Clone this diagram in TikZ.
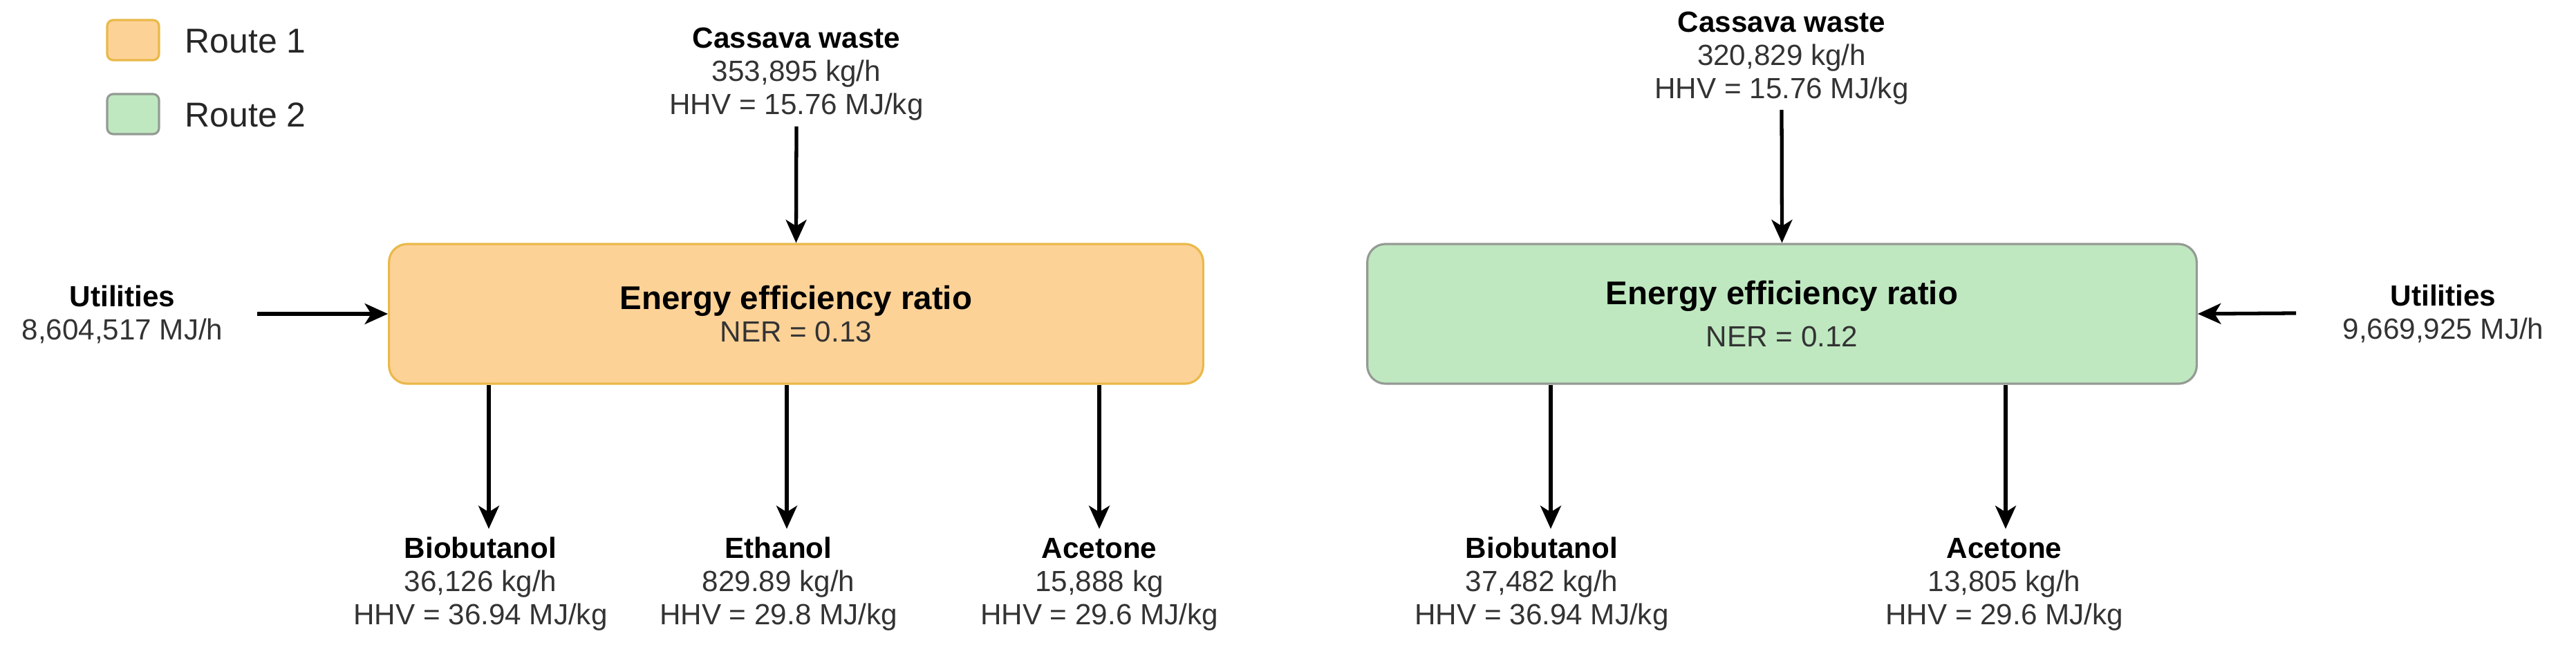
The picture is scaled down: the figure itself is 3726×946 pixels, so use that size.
\documentclass[tikz,border=0pt]{standalone}
\usepackage{fontspec}
\setmainfont{Liberation Sans}
\usetikzlibrary{arrows.meta}
\definecolor{orfill}{HTML}{FDD297}
\definecolor{ordraw}{HTML}{E9B949}
\definecolor{grfill}{HTML}{BFE8C0}
\definecolor{grdraw}{HTML}{949A94}
\definecolor{txtgray}{HTML}{333333}
\begin{document}
\begin{tikzpicture}[x=0.01cm,y=-0.01cm,
  lbl/.style={align=center, inner sep=0pt, font=\fontsize{12pt}{13.66pt}\selectfont, text=txtgray},
  flow/.style={line width=1.5pt, -{Stealth[length=9.5pt,width=8.5pt,inset=2.6pt]}},
  ratiobox/.style={rounded corners=7.5pt, line width=0.9pt, minimum width=11.77cm, minimum height=2.02cm, align=center, inner sep=0pt, font=\fontsize{12pt}{13.4pt}\selectfont, text=txtgray},
  legbox/.style={rounded corners=2.5pt, line width=0.9pt, minimum width=0.75cm, minimum height=0.58cm, inner sep=0pt},
  legtext/.style={anchor=west, inner sep=0pt, font=\fontsize{14.2pt}{17pt}\selectfont, text=black!85}
]
\useasboundingbox (0,0) rectangle (3726,946);

% legend
\node[legbox, fill=orfill, draw=ordraw] (leg1) at (192.5,58) {};
\node[legtext] (leg1t) at (267,60) {Route 1};
\node[legbox, fill=grfill, draw=grdraw] (leg2) at (192.5,165) {};
\node[legtext] (leg2t) at (267,166) {Route 2};

% route 1
\node[ratiobox, fill=orfill, draw=ordraw] (r1) at (1151.5,454)
  {{\color{black}\fontsize{13.5pt}{13.4pt}\selectfont\bfseries Energy efficiency ratio}\\NER = 0.13};
\node[lbl] (cw1) at (1152,107) {{\bfseries\color{black}Cassava waste}\\353,895 kg/h\\HHV = 15.76 MJ/kg};
\draw[flow, shorten <=0.08cm] (cw1.south) -- (r1.north);
\node[lbl] (u1) at (177,455) {{\bfseries\color{black}Utilities}\\8,604,517 MJ/h};
\coordinate (u1s) at (372,454);
\draw[flow] (u1s) -- (r1.west);

\node[lbl] (p11) at (695,845) {{\bfseries\color{black}Biobutanol}\\36,126 kg/h\\HHV = 36.94 MJ/kg};
\node[lbl] (p12) at (1126,845) {{\bfseries\color{black}Ethanol}\\829.89 kg/h\\HHV = 29.8 MJ/kg};
\node[lbl] (p13) at (1590,845) {{\bfseries\color{black}Acetone}\\15,888 kg\\HHV = 29.6 MJ/kg};
\coordinate (p11a) at (707,765);
\coordinate (p12a) at (1138,765);
\coordinate (p13a) at (1590,765);
\draw[flow] (r1.south -| p11a) -- (p11a);
\draw[flow] (r1.south -| p12a) -- (p12a);
\draw[flow] (r1.south -| p13a) -- (p13a);

% route 2
\node[ratiobox, minimum width=11.99cm, fill=grfill, draw=grdraw] (r2) at (2577.5,454)
  {{\color{black}\fontsize{13.5pt}{13.4pt}\selectfont\bfseries Energy efficiency ratio}\\[4.2pt]NER = 0.12};
\node[lbl] (cw2) at (2577,84) {{\bfseries\color{black}Cassava waste}\\320,829 kg/h\\HHV = 15.76 MJ/kg};
\draw[flow, shorten <=0.07cm] (cw2.south) -- (r2.north);
\node[lbl] (u2) at (3534,454) {{\bfseries\color{black}Utilities}\\9,669,925 MJ/h};
\coordinate (u2s) at (3321,453);
\draw[flow] (u2s) -- (r2.east);

\node[lbl] (p21) at (2230,845) {{\bfseries\color{black}Biobutanol}\\37,482 kg/h\\HHV = 36.94 MJ/kg};
\node[lbl] (p22) at (2899,845) {{\bfseries\color{black}Acetone}\\13,805 kg/h\\HHV = 29.6 MJ/kg};
\coordinate (p21a) at (2243,765);
\coordinate (p22a) at (2901,765);
\draw[flow] (r2.south -| p21a) -- (p21a);
\draw[flow] (r2.south -| p22a) -- (p22a);
\end{tikzpicture}
\end{document}
